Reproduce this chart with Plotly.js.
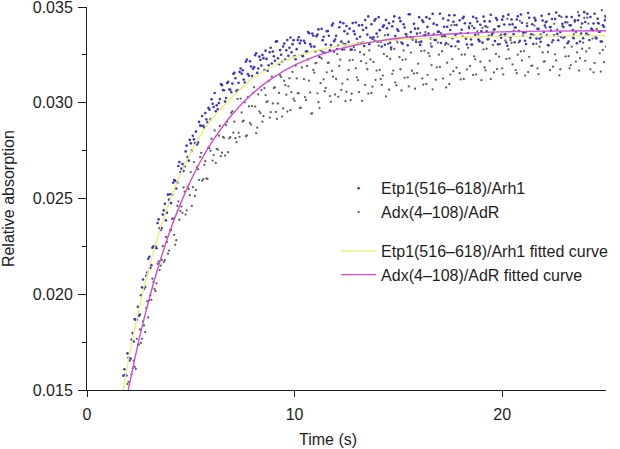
<!DOCTYPE html>
<html>
<head>
<meta charset="utf-8">
<script src="https://cdn.plot.ly/plotly-3.0.1.min.js"></script>
<style>
  html, body { margin: 0; padding: 0; background: #fff; }
  #absPlot { width: 620px; height: 449px; }
</style>
</head>
<body>
<div id="absPlot"></div>
<script>
// the traces are sampled every 0.1 s; a second read-off is offset by half a step
let t_first = 1.6;
let t_first_b = 1.65;
let t_step = 0.1;

// axis ticks
let yTicks = [0.015, 0.020, 0.025, 0.030, 0.035];
let yTickText = ['0.015', '0.020', '0.025', '0.030', '0.035'];
let yMinorTicks = [0.0175, 0.0225, 0.0275, 0.0325];
let xTicks = [0, 10, 20];

// Etp1(516-618)/Arh1 measured points (relative absorption)
let etpAbs = [
  0.01480, 0.01487, 0.01608, 0.01576, 0.01668, 0.01664, 0.01797, 0.01870, 0.01868, 0.01888,
  0.01995, 0.02077, 0.02038, 0.02113, 0.02196, 0.02152, 0.02250, 0.02251, 0.02372, 0.02344,
  0.02346, 0.02438, 0.02386, 0.02520, 0.02522, 0.02520, 0.02596, 0.02552, 0.02670, 0.02638,
  0.02680, 0.02668, 0.02776, 0.02698, 0.02788, 0.02828, 0.02790, 0.02782, 0.02900, 0.02880,
  0.02880, 0.02946, 0.02898, 0.02964, 0.03018, 0.02978, 0.02956,
  0.02966, 0.03019, 0.03092, 0.03065, 0.03025, 0.03109, 0.03068, 0.03100, 0.03156, 0.03061,
  0.03104, 0.03179, 0.03170, 0.03106, 0.03225, 0.03141, 0.03189, 0.03177, 0.03248, 0.03156,
  0.03241, 0.03194, 0.03233, 0.03272, 0.03167, 0.03264, 0.03205, 0.03243, 0.03319, 0.03232,
  0.03275, 0.03214, 0.03309, 0.03274, 0.03245, 0.03341, 0.03306, 0.03244, 0.03280, 0.03342,
  0.03325, 0.03243, 0.03312, 0.03269, 0.03363, 0.03294, 0.03350,
  0.03269, 0.03356, 0.03239, 0.03386, 0.03345, 0.03304, 0.03375, 0.03274, 0.03404, 0.03321,
  0.03349, 0.03299, 0.03421, 0.03278, 0.03374, 0.03401, 0.03318, 0.03277, 0.03416, 0.03358,
  0.03334, 0.03404, 0.03311, 0.03380, 0.03432, 0.03356, 0.03306, 0.03410, 0.03342, 0.03437,
  0.03319, 0.03379, 0.03294, 0.03405, 0.03432, 0.03355, 0.03313, 0.03399, 0.03451, 0.03331,
  0.03375, 0.03426, 0.03308, 0.03393, 0.03343, 0.03462, 0.03369,
  0.03335, 0.03387, 0.03361, 0.03447, 0.03319, 0.03422, 0.03353, 0.03396, 0.03439, 0.03294,
  0.03413, 0.03328, 0.03370, 0.03465, 0.03346, 0.03397, 0.03312, 0.03431, 0.03380, 0.03337,
  0.03457, 0.03406, 0.03320, 0.03363, 0.03441, 0.03415, 0.03304, 0.03390, 0.03330, 0.03449,
  0.03355, 0.03424, 0.03321, 0.03373, 0.03450, 0.03399, 0.03331, 0.03425, 0.03356, 0.03382,
  0.03442, 0.03305, 0.03348, 0.03434, 0.03409, 0.03315, 0.03460,
  0.03341, 0.03410, 0.03316, 0.03435, 0.03375, 0.03461, 0.03350, 0.03324, 0.03401, 0.03444,
  0.03358, 0.03307, 0.03429, 0.03386, 0.03335, 0.03454, 0.03369, 0.03420, 0.03301, 0.03395,
  0.03437, 0.03352, 0.03471, 0.03326, 0.03369, 0.03412, 0.03343, 0.03448, 0.03320, 0.03405,
  0.03379, 0.03431, 0.03311, 0.03456, 0.03362, 0.03337, 0.03422, 0.03465, 0.03328, 0.03388,
  0.03414, 0.03345, 0.03439, 0.03371, 0.03320, 0.03397, 0.03448
];
let etpAbsB = [
  0.01454, 0.01575, 0.01580, 0.01691, 0.01654, 0.01764, 0.01753, 0.01866, 0.01935, 0.01894,
  0.02036, 0.02028, 0.02097, 0.02185, 0.02138, 0.02243, 0.02245, 0.02240, 0.02391, 0.02336,
  0.02416, 0.02472, 0.02426, 0.02494, 0.02476, 0.02582, 0.02592, 0.02584, 0.02690, 0.02656,
  0.02644, 0.02746, 0.02716, 0.02806, 0.02751, 0.02809, 0.02849, 0.02793, 0.02881, 0.02931,
  0.02871, 0.02913, 0.02973, 0.02913, 0.02995, 0.03051, 0.02987,
  0.02999, 0.03098, 0.03066, 0.03006, 0.03103, 0.03069, 0.03055, 0.03151, 0.03128, 0.03066,
  0.03161, 0.03152, 0.03121, 0.03214, 0.03150, 0.03217, 0.03140, 0.03186, 0.03258, 0.03179,
  0.03224, 0.03250, 0.03171, 0.03229, 0.03196, 0.03287, 0.03267, 0.03219, 0.03321, 0.03201,
  0.03251, 0.03294, 0.03226, 0.03328, 0.03287, 0.03264, 0.03327, 0.03227, 0.03328, 0.03311,
  0.03249, 0.03324, 0.03268, 0.03369, 0.03306, 0.03362, 0.03293,
  0.03347, 0.03383, 0.03274, 0.03327, 0.03261, 0.03374, 0.03350, 0.03301, 0.03414, 0.03330,
  0.03281, 0.03394, 0.03319, 0.03415, 0.03306, 0.03360, 0.03387, 0.03278, 0.03374, 0.03419,
  0.03309, 0.03345, 0.03406, 0.03296, 0.03391, 0.03451, 0.03341, 0.03334, 0.03429, 0.03361,
  0.03447, 0.03319, 0.03397, 0.03303, 0.03389, 0.03415, 0.03288, 0.03424, 0.03348, 0.03383,
  0.03443, 0.03315, 0.03410, 0.03359, 0.03300, 0.03462, 0.03335,
  0.03412, 0.03318, 0.03388, 0.03302, 0.03430, 0.03353, 0.03447, 0.03362, 0.03336, 0.03464,
  0.03329, 0.03406, 0.03371, 0.03312, 0.03440, 0.03346, 0.03397, 0.03457, 0.03295, 0.03423,
  0.03354, 0.03320, 0.03431, 0.03381, 0.03449, 0.03338, 0.03364, 0.03415, 0.03304, 0.03390,
  0.03441, 0.03330, 0.03407, 0.03314, 0.03425, 0.03373, 0.03348, 0.03459, 0.03365, 0.03322,
  0.03433, 0.03399, 0.03339, 0.03451, 0.03357, 0.03298, 0.03409,
  0.03435, 0.03358, 0.03393, 0.03452, 0.03324, 0.03418, 0.03367, 0.03307, 0.03469, 0.03341,
  0.03410, 0.03444, 0.03335, 0.03386, 0.03318, 0.03429, 0.03403, 0.03352, 0.03463, 0.03377,
  0.03326, 0.03437, 0.03360, 0.03454, 0.03343, 0.03395, 0.03420, 0.03311, 0.03405, 0.03448,
  0.03337, 0.03371, 0.03431, 0.03320, 0.03414, 0.03473, 0.03362, 0.03354, 0.03448, 0.03379,
  0.03465, 0.03337, 0.03414, 0.03320, 0.03405, 0.03431
];

// Adx(4-108)/AdR measured points
let adxAbs = [
  0.01321, 0.01413, 0.01365, 0.01450, 0.01542, 0.01495, 0.01614, 0.01621, 0.01767, 0.01738,
  0.01746, 0.01858, 0.01802, 0.01963, 0.01969, 0.01971, 0.02064, 0.02017, 0.02159, 0.02126,
  0.02179, 0.02169, 0.02299, 0.02212, 0.02333, 0.02393, 0.02310, 0.02282, 0.02485, 0.02435,
  0.02425, 0.02536, 0.02438, 0.02549, 0.02638, 0.02559, 0.02513, 0.02665, 0.02597, 0.02738,
  0.02601, 0.02695, 0.02602, 0.02762, 0.02812, 0.02727, 0.02686,
  0.02755, 0.02879, 0.02739, 0.02817, 0.02884, 0.02742, 0.02820, 0.02956, 0.02901, 0.02794,
  0.02843, 0.03022, 0.02902, 0.03002, 0.02829, 0.02981, 0.02886, 0.03051, 0.02980, 0.02870,
  0.02955, 0.03066, 0.02930, 0.03040, 0.03007, 0.02922, 0.03136, 0.03077, 0.02952, 0.02996,
  0.03144, 0.02928, 0.03115, 0.03042, 0.03086, 0.02961, 0.03161, 0.03010, 0.03127, 0.03050,
  0.02974, 0.03249, 0.03029, 0.03192, 0.03116, 0.02943, 0.03171,
  0.03206, 0.03049, 0.02972, 0.03231, 0.03122, 0.03077, 0.03208, 0.03035, 0.03166, 0.03265,
  0.03124, 0.03031, 0.03225, 0.03100, 0.03278, 0.03057, 0.03171, 0.03014, 0.03224, 0.03275,
  0.03133, 0.03055, 0.03217, 0.03315, 0.03093, 0.03175, 0.03273, 0.03051, 0.03213, 0.03119,
  0.03345, 0.03171, 0.03093, 0.03255, 0.03033, 0.03307, 0.03229, 0.03151, 0.03281, 0.03091,
  0.03333, 0.03175, 0.03224, 0.03130, 0.03355, 0.03085, 0.03262,
  0.03328, 0.03073, 0.03155, 0.03316, 0.03270, 0.03095, 0.03369, 0.03146, 0.03244, 0.03197,
  0.03359, 0.03120, 0.03314, 0.03187, 0.03269, 0.03350, 0.03080, 0.03305, 0.03147, 0.03228,
  0.03406, 0.03183, 0.03281, 0.03122, 0.03347, 0.03252, 0.03174, 0.03399, 0.03304, 0.03145,
  0.03227, 0.03372, 0.03325, 0.03118, 0.03279, 0.03169, 0.03394, 0.03219, 0.03349, 0.03158,
  0.03255, 0.03400, 0.03306, 0.03179, 0.03356, 0.03229, 0.03278,
  0.03327, 0.03200, 0.03393, 0.03154, 0.03315, 0.03268, 0.03365, 0.03142, 0.03415, 0.03240,
  0.03193, 0.03354, 0.03435, 0.03180, 0.03293, 0.03342, 0.03215, 0.03392, 0.03265, 0.03170,
  0.03315, 0.03412, 0.03221, 0.03350, 0.03175, 0.03400, 0.03289, 0.03450, 0.03243, 0.03196,
  0.03341, 0.03422, 0.03263, 0.03168, 0.03393, 0.03314, 0.03219, 0.03444, 0.03285, 0.03382,
  0.03159, 0.03336, 0.03417, 0.03258, 0.03483, 0.03212, 0.03293
];
let adxAbsB = [
  0.01276, 0.01417, 0.01404, 0.01531, 0.01491, 0.01583, 0.01653, 0.01610, 0.01735, 0.01816,
  0.01767, 0.01837, 0.01928, 0.01879, 0.01995, 0.02081, 0.02027, 0.02057, 0.02171, 0.02149,
  0.02251, 0.02178, 0.02273, 0.02228, 0.02336, 0.02396, 0.02258, 0.02461, 0.02389, 0.02458,
  0.02558, 0.02416, 0.02560, 0.02517, 0.02461, 0.02690, 0.02545, 0.02653, 0.02717, 0.02593,
  0.02676, 0.02605, 0.02765, 0.02749, 0.02698, 0.02855, 0.02759,
  0.02828, 0.02721, 0.02822, 0.02724, 0.02901, 0.02814, 0.02947, 0.02844, 0.02815, 0.03020,
  0.02822, 0.02949, 0.02907, 0.02825, 0.03029, 0.02895, 0.02982, 0.03081, 0.02841, 0.03043,
  0.02946, 0.02901, 0.03076, 0.03004, 0.03114, 0.02951, 0.02996, 0.03080, 0.02916, 0.03051,
  0.03134, 0.02970, 0.03092, 0.02954, 0.03128, 0.03055, 0.03021, 0.03194, 0.03049, 0.02972,
  0.03184, 0.03123, 0.03015, 0.03226, 0.03054, 0.02945, 0.03157,
  0.03208, 0.03003, 0.03102, 0.03265, 0.03060, 0.03159, 0.03210, 0.03005, 0.03136, 0.03043,
  0.03254, 0.03192, 0.03067, 0.03309, 0.03008, 0.03122, 0.03221, 0.03047, 0.03290, 0.03180,
  0.03118, 0.03264, 0.03010, 0.03252, 0.03206, 0.03048, 0.03226, 0.03084, 0.03326, 0.03168,
  0.03298, 0.03124, 0.03142, 0.03352, 0.03242, 0.03068, 0.03278, 0.03168, 0.03106, 0.03316,
  0.03238, 0.03064, 0.03273, 0.03227, 0.03132, 0.03342, 0.03167,
  0.03153, 0.03330, 0.03204, 0.03365, 0.03127, 0.03272, 0.03098, 0.03259, 0.03309, 0.03070,
  0.03328, 0.03185, 0.03251, 0.03364, 0.03126, 0.03303, 0.03209, 0.03098, 0.03404, 0.03165,
  0.03295, 0.03360, 0.03154, 0.03251, 0.03124, 0.03333, 0.03287, 0.03192, 0.03401, 0.03242,
  0.03148, 0.03357, 0.03214, 0.03391, 0.03184, 0.03282, 0.03331, 0.03124, 0.03302, 0.03383,
  0.03176, 0.03241, 0.03355, 0.03148, 0.03325, 0.03438, 0.03231,
  0.03312, 0.03377, 0.03170, 0.03251, 0.03428, 0.03221, 0.03270, 0.03367, 0.03160, 0.03337,
  0.03194, 0.03403, 0.03308, 0.03149, 0.03358, 0.03263, 0.03216, 0.03425, 0.03298, 0.03395,
  0.03188, 0.03253, 0.03382, 0.03143, 0.03448, 0.03337, 0.03242, 0.03419, 0.03180, 0.03293,
  0.03358, 0.03215, 0.03472, 0.03233, 0.03282, 0.03443, 0.03268, 0.03413, 0.03174, 0.03335,
  0.03208, 0.03385, 0.03370, 0.03163, 0.03276, 0.03453
];

let etpFitT = [1.74, 2, 2.5, 3, 3.5, 4, 4.5, 5, 5.5, 6, 7, 8, 9, 10, 11, 12, 13, 14, 15, 16, 18, 20, 22, 25];
let etpFit = [0.01500, 0.01657, 0.01921, 0.02144, 0.02333, 0.02492, 0.02626, 0.02739, 0.02835, 0.02915,
  0.03030, 0.03130, 0.03193, 0.03240, 0.03271, 0.03294, 0.03310, 0.03321, 0.03330, 0.03335,
  0.03342, 0.03347, 0.03349, 0.03350];

let adxFitT = [1.99, 2.5, 3, 3.5, 4, 4.5, 5, 5.5, 6, 7, 8, 9, 10, 11, 12, 13, 14, 15, 16, 18, 20, 22, 25];
let adxFit = [0.01500, 0.01760, 0.01977, 0.02167, 0.02331, 0.02472, 0.02594, 0.02701, 0.02792, 0.02940,
  0.03051, 0.03134, 0.03196, 0.03242, 0.03277, 0.03303, 0.03322, 0.03337, 0.03348, 0.03362,
  0.03370, 0.03374, 0.03376];

let fontFam = '"Liberation Sans", Arial, Helvetica, sans-serif';
let ink = '#1e1e1e';
let adxDot = {color: '#606060', size: 2.3};
let etpDot = {color: '#3838c4', size: 2.6};

var data = [
  {
    y: adxAbs, x0: t_first, dx: t_step,
    type: 'scatter', mode: 'markers',
    name: 'Adx(4–108)/AdR',
    legendgroup: 'meas', legendrank: 2,
    marker: adxDot
  },
  {
    y: adxAbsB, x0: t_first_b, dx: t_step,
    type: 'scatter', mode: 'markers',
    name: 'Adx(4–108)/AdR', showlegend: false,
    legendgroup: 'meas',
    marker: adxDot
  },
  {
    y: etpAbs, x0: t_first, dx: t_step,
    type: 'scatter', mode: 'markers',
    name: 'Etp1(516–618)/Arh1',
    legendgroup: 'meas', legendrank: 1,
    marker: etpDot
  },
  {
    y: etpAbsB, x0: t_first_b, dx: t_step,
    type: 'scatter', mode: 'markers',
    name: 'Etp1(516–618)/Arh1', showlegend: false,
    legendgroup: 'meas',
    marker: etpDot
  },
  {
    x: etpFitT, y: etpFit,
    type: 'scatter', mode: 'lines',
    name: 'Etp1(516–618)/Arh1 fitted curve',
    legendgroup: 'fit', legendrank: 3,
    line: {color: '#eeee6a', width: 1.3, shape: 'spline', smoothing: 0.8}
  },
  {
    x: adxFitT, y: adxFit,
    type: 'scatter', mode: 'lines',
    name: 'Adx(4–108)/AdR fitted curve',
    legendgroup: 'fit', legendrank: 4,
    line: {color: '#d04cd4', width: 1.4, shape: 'spline', smoothing: 0.8}
  }
];

var layout = {
  width: 620, height: 449,
  paper_bgcolor: '#fff', plot_bgcolor: '#fff',
  font: {family: fontFam, size: 16, color: ink},
  margin: {l: 87, r: 10, t: 7, b: 59, pad: 0},
  showlegend: true,
  legend: {
    x: 0.48, y: 0.571, xanchor: 'left', yanchor: 'top',
    bgcolor: 'rgba(0,0,0,0)', borderwidth: 0,
    traceorder: 'grouped', tracegroupgap: 15,
    itemwidth: 35,
    font: {family: fontFam, size: 16, color: ink}
  },
  xaxis: {
    range: [0, 25],
    tickmode: 'array', tickvals: xTicks,
    showgrid: false, zeroline: false,
    showline: true, linecolor: ink, linewidth: 1,
    ticks: 'outside', ticklen: 6, tickwidth: 1, tickcolor: ink,
    ticklabelstandoff: 4
  },
  yaxis: {
    range: [0.015, 0.0350001],
    tickmode: 'array', tickvals: yTicks, ticktext: yTickText,
    ticklabeloverflow: 'allow',
    showgrid: false, zeroline: false,
    showline: true, linecolor: ink, linewidth: 1,
    ticks: 'outside', ticklen: 8, tickwidth: 1, tickcolor: ink,
    ticklabelstandoff: 2,
    minor: {tickmode: 'array', tickvals: yMinorTicks, ticks: 'outside', ticklen: 4, tickcolor: ink, showgrid: false}
  },
  annotations: [
    {
      text: 'Time (s)', xref: 'paper', yref: 'paper',
      x: (330 - 87) / 523, y: -0.13, xanchor: 'center', yanchor: 'middle',
      showarrow: false, font: {size: 16, color: ink}
    },
    {
      text: 'Relative absorption', xref: 'paper', yref: 'paper',
      x: (8 - 87) / 523, y: 0.5, xanchor: 'center', yanchor: 'middle',
      textangle: -90, showarrow: false, font: {size: 16, color: ink}
    }
  ]
};

Plotly.newPlot('absPlot', data, layout, {displayModeBar: false, staticPlot: true});
</script>
</body>
</html>
